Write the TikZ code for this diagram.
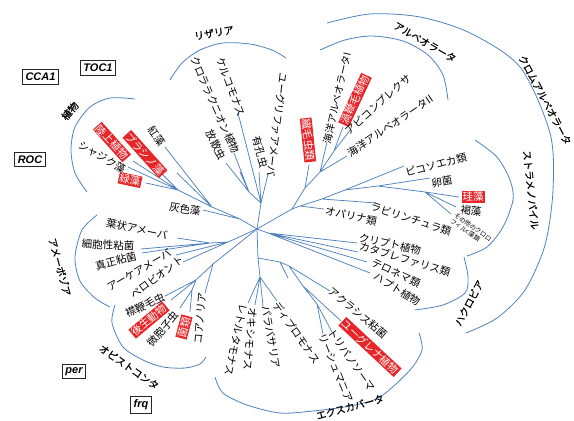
\documentclass[tikz,border=0pt]{standalone}
\usepackage{fontspec}
\newfontfamily\jp{Noto Sans CJK JP}
\newfontfamily\jpg[FakeBold=0.6]{Noto Sans CJK JP}
\newfontfamily\gene{Liberation Sans}
\definecolor{tree}{HTML}{4F81BD}
\definecolor{hl}{HTML}{E8262A}
\begin{document}
\begin{tikzpicture}[x=1pt,y=-1pt,
  br/.style={draw=tree, line width=0.75pt},
  arcline/.style={draw=tree, line width=0.8pt},
  lab/.style={font=\jp\fontsize{10.5}{11}\selectfont, inner sep=0.5pt, text=black},
  small/.style={font=\jp\fontsize{6.3}{6.8}\selectfont, inner sep=0.3pt, text=black, align=left},
  grp/.style={font=\jpg\fontsize{10}{11}\selectfont, inner sep=0.5pt},
  redbox/.style={fill=hl, text=white, font=\jp\fontsize{10.5}{11}\selectfont, inner sep=1pt},
  genebox/.style={draw=black!85, line width=0.9pt, fill=white, font=\gene\bfseries\itshape\fontsize{11}{12}\selectfont, inner xsep=3pt, minimum height=14pt}
]
\useasboundingbox (0,0) rectangle (574,421);

% ---------- tree coordinates ----------
\coordinate (C) at (257,229);
% Rhizaria
\coordinate (R0) at (261,203);
\coordinate (R1) at (249,192);
\coordinate (rK) at (238,113);
\coordinate (rC) at (234,153);
\coordinate (rH) at (226,163);
\coordinate (rS) at (240,172);
\coordinate (rY) at (259,172);
\coordinate (rE) at (268,174);
% Alveolata
\coordinate (S0) at (292,209);
\coordinate (A0) at (305,188);
\coordinate (aC) at (309,165);
\coordinate (A1) at (320,172);
\coordinate (a1) at (327,142);
\coordinate (A2) at (334,151);
\coordinate (aD) at (343,127);
\coordinate (aA) at (351,129);
\coordinate (a2) at (347,156);
% Stramenopiles
\coordinate (S1) at (300,206);
\coordinate (sOp) at (324,209);
\coordinate (S2) at (322,199);
\coordinate (sL) at (376,203);
\coordinate (S3) at (345,190);
\coordinate (sP) at (404,166);
\coordinate (S4) at (378,186);
\coordinate (sO) at (430,178);
\coordinate (S5) at (425,192);
\coordinate (sD) at (459,197);
\coordinate (sB) at (456,207);
\coordinate (sX) at (451,214);
% Hacrobia
\coordinate (H0) at (268,233);
\coordinate (hC) at (357,243);
\coordinate (hK) at (358,252);
\coordinate (hT) at (367,262);
\coordinate (hH) at (370,273);
% Excavata
\coordinate (E0) at (258,258);
\coordinate (E1) at (260,277);
\coordinate (eR) at (248,303);
\coordinate (eO) at (255,305);
\coordinate (eP) at (263,306);
\coordinate (eDp) at (277,301);
\coordinate (E2) at (280,262);
\coordinate (eS) at (288,278);
\coordinate (E3) at (289,266);
\coordinate (eA) at (330,291);
\coordinate (E4) at (303,286);
\coordinate (eE) at (341,321);
\coordinate (E5) at (317,304);
\coordinate (eT) at (332,332);
\coordinate (eL) at (323,334);
% Amoebozoa
\coordinate (M0) at (228,242);
\coordinate (M1) at (210,243);
\coordinate (mL) at (177,238);
\coordinate (mS) at (141,249);
\coordinate (mP) at (142,253);
\coordinate (mA) at (176,255);
\coordinate (mPe) at (183,262);
% Opisthokonta
\coordinate (O0) at (213,264);
\coordinate (oCo) at (205,293);
\coordinate (O1) at (196,280);
\coordinate (oCh) at (165,296);
\coordinate (oM) at (171,300);
\coordinate (O2) at (192,290);
\coordinate (oMi) at (180,308);
\coordinate (oF) at (190,312);
% Plants
\coordinate (PA) at (240,219);
\coordinate (pG) at (203,210);
\coordinate (PB) at (212,207);
\coordinate (pR) at (165,147);
\coordinate (pS) at (177,173);
\coordinate (PC) at (178,190);
\coordinate (pL) at (133,161);
\coordinate (pC) at (128,167);
\coordinate (pP) at (160,172);
\coordinate (pG2) at (146,183);

% ---------- branches ----------
\path[br] (C)--(R0) (R0)--(rK) (R0)--(R1) (R1)--(rC) (R1)--(rH) (R1)--(rS) (R0)--(rY) (R0)--(rE);
\path[br] (C)--(S0) (S0)--(A0) (A0)--(aC) (A0)--(A1) (A1)--(a1) (A1)--(A2) (A2)--(aD) (A2)--(aA) (A1)--(a2);
\path[br] (S0)--(S1) (S1)--(sOp) (S1)--(S2) (S2)--(sL) (S2)--(S3) (S3)--(sP) (S3)--(S4) (S4)--(sO) (S4)--(S5) (S5)--(sD) (S5)--(sB) (S5)--(sX);
\path[br] (C)--(H0) (H0)--(hC) (H0)--(hK) (H0)--(hT) (H0)--(hH);
\path[br] (C)--(E0) (E0)--(E1) (E1)--(eR) (E1)--(eO) (E1)--(eP) (E1)--(eDp) (E0)--(E2) (E2)--(eS) (E2)--(E3) (E3)--(eA) (E3)--(E4) (E4)--(eE) (E4)--(E5) (E5)--(eT) (E5)--(eL);
\path[br] (C)--(M0) (M0)--(M1) (M1)--(mL) (M1)--(mS) (M1)--(mP) (M0)--(mA) (M0)--(mPe);
\path[br] (C)--(O0) (O0)--(oCo) (O0)--(O1) (O1)--(oCh) (O1)--(oM) (O1)--(O2) (O2)--(oMi) (O2)--(oF);
\path[br] (C)--(PA) (PA)--(pG) (PA)--(PB) (PB)--(pR) (PB)--(pS) (PB)--(PC) (PC)--(pL) (PC)--(pC) (PC)--(pP) (PC)--(pG2);

% ---------- group arcs ----------
\draw[arcline] plot[smooth] coordinates {(170,80) (182,63) (200,50) (223,43) (250,44) (272,50) (286,58)};
\draw[arcline] plot[smooth] coordinates {(320,50) (345,40) (372,36) (403,41) (428,55) (443,75) (448,100)};
\draw[arcline] plot[smooth] coordinates {(327,23) (370,14) (420,17) (470,33) (520,67) (550,133) (553,190) (545,245) (525,290) (497,318) (466,333)};
\draw[arcline] plot[smooth] coordinates {(475,140) (497,157) (510,180) (513,200) (503,227) (487,247) (467,256)};
\draw[arcline] plot[smooth] coordinates {(464,257) (468,277) (465,293) (443,305) (415,310)};
\draw[arcline] plot[smooth] coordinates {(215,377) (223,393) (247,405) (280,413) (313,411) (350,406) (380,397) (410,370) (422,350) (419,333)};
\draw[arcline] plot[smooth] coordinates {(115,305) (112,323) (123,347) (143,360) (163,367) (185,368) (200,364) (206,357)};
\draw[arcline] plot[smooth] coordinates {(97,215) (82,230) (75,257) (80,281) (95,298) (110,307)};
\draw[arcline] plot[smooth] coordinates {(135,99) (110,98) (90,107) (75,127) (71,150) (75,173) (87,192)};

% ---------- leaf labels ----------
% Rhizaria
\node[lab, rotate=-69] (lK) at (231,87) {ケルコモナス};
\node[lab, rotate=-66] (lCh) at (215,105) {クロララクニオン植物};
\node[lab, rotate=-62] (lRa) at (216,145) {放散虫};
\node[lab, rotate=-75] (lFo) at (260,152) {有孔虫};
\node[lab, rotate=-97] (lEu) at (277,125) {ユーグリファアメーバ};
% Alveolata
\node[redbox, rotate=-84] (lCi) at (308,140) {繊毛虫類};
\node[lab, rotate=77, font=\jp\fontsize{10}{11}\selectfont] (lM1) at (337,98) {海洋アルベオラータI};
\node[redbox, rotate=65] (lDi) at (355,100) {渦鞭毛植物};
\node[lab, rotate=42] (lAp) at (378,104) {アピコンプレクサ};
\node[lab, rotate=34] (lM2) at (390,126) {海洋アルベオラータII};
% Stramenopiles
\node[lab, rotate=-12] (lOp) at (351,216) {オパリナ類};
\node[lab, rotate=-18] (lLa) at (411,219) {ラビリンチュラ類};
\node[lab, rotate=15] (lPi) at (436,165) {ピコソエカ類};
\node[lab, rotate=10] (lOo) at (442,182) {卵菌};
\node[redbox] (lDt) at (473,197) {珪藻};
\node[lab, rotate=-8] (lBr) at (471,211) {褐藻};
\node[small, rotate=-35] (lOt) at (471,230) {その他のクロロ\\フィルc藻類};
% Hacrobia
\node[lab, rotate=-12] (lCr) at (390,244) {クリプト植物};
\node[lab, rotate=-17] (lKa) at (405,259) {カタブレファリス類};
\node[lab, rotate=-25] (lTe) at (396,273) {テロネマ類};
\node[lab, rotate=-32] (lHa) at (397,289) {ハプト植物};
% Excavata
\node[lab, rotate=-102] (lRe) at (236,340) {レトルタモナス};
\node[lab, rotate=-95] (lOx) at (250,339) {オキシモナス};
\node[lab, rotate=-80] (lPa) at (271,337) {パラバサリア};
\node[lab, rotate=-55] (lDp) at (297,333) {ディプロモナス};
\node[lab, rotate=-40] (lAc) at (358,313) {アクラシス粘菌};
\node[redbox, rotate=-43] (lEg) at (370,347) {ユーグレナ植物};
\node[lab, rotate=-55] (lTr) at (352,360) {トリパノソーマ};
\node[lab, rotate=-68] (lLe) at (336,368) {リーシュマニア};
% Amoebozoa
\node[lab, rotate=-12] (lLo) at (137,229) {葉状アメーバ};
\node[lab, rotate=-3] (lDc) at (108,245) {細胞性粘菌};
\node[lab, rotate=15] (lMy) at (116,261) {真正粘菌};
\node[lab, rotate=30] (lAr) at (139,270) {アーケアメーバ};
\node[lab, rotate=37] (lPe) at (157,277) {ペロビオント};
% Opisthokonta
\node[lab, rotate=25] (lCf) at (145,305) {襟鞭毛虫};
\node[redbox, rotate=40] (lMe) at (149,320) {後生動物};
\node[lab, rotate=50] (lMs) at (163,329) {微胞子虫};
\node[redbox, rotate=75] (lFu) at (184,327) {菌類};
\node[lab, rotate=85] (lCo) at (200,318) {コアノリア};
% Plants
\node[lab, rotate=-55] (lRd) at (157,136) {紅藻};
\node[redbox, rotate=-48] (lLp) at (112,142) {陸上植物};
\node[redbox, rotate=-48] (lPr) at (145,154) {プラシノ藻};
\node[lab, rotate=-30] (lCa) at (102,157) {シャジク藻};
\node[redbox, rotate=-12] (lGr) at (130,180) {緑藻};
\node[lab, rotate=-10] (lGl) at (185,209) {灰色藻};

% ---------- group labels ----------
\node[grp, rotate=10] (gRh) at (214,33) {リザリア};
\node[grp, rotate=-30] (gAl) at (425,42) {アルベオラータ};
\node[grp, rotate=-62] (gCh) at (545,100) {クロムアルベオラータ};
\node[grp, rotate=-84] (gSt) at (531,190) {ストラメノパイル};
\node[grp, rotate=62] (gHa) at (469,303) {ハクロビア};
\node[grp, rotate=15] (gEx) at (350,407) {エクスカバータ};
\node[grp, rotate=-35] (gOp) at (129,367) {オピストコンタ};
\node[grp, rotate=-75] (gAm) at (60,267) {アメーボゾア};
\node[grp, rotate=50] (gPl) at (70,111) {植物};

% ---------- gene boxes ----------
\node[genebox] (bCCA) at (40.5,77) {CCA1};
\node[genebox] (bTOC) at (98,68) {TOC1};
\node[genebox] (bROC) at (30,159.5) {ROC};
\node[genebox] (bPER) at (74,371.5) {per};
\node[genebox] (bFRQ) at (141,404.5) {frq};
\end{tikzpicture}
\end{document}
